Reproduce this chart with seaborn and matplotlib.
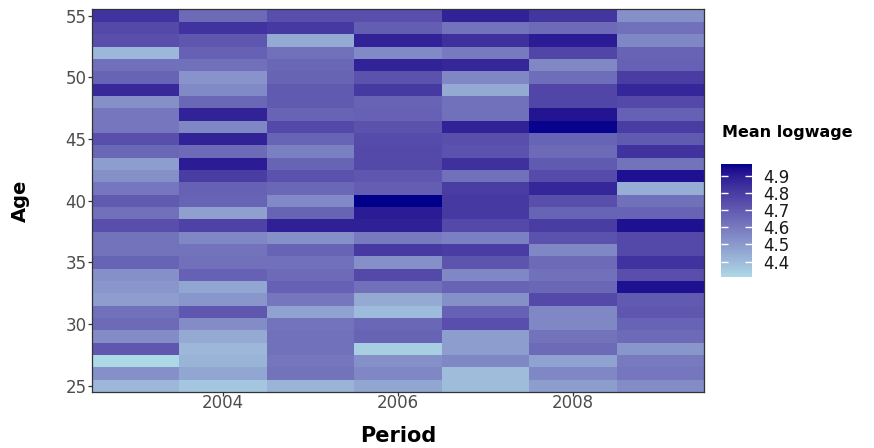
import numpy as np
import pandas as pd
import matplotlib
matplotlib.use("Agg")
import matplotlib.pyplot as plt
from matplotlib.colors import ListedColormap, to_rgb
import seaborn as sns

# Mean log wage by period (columns) and age (rows, 25 -> 55)
ages = list(range(25, 56))
periods = [2003, 2004, 2005, 2006, 2007, 2008, 2009]

wage_2003 = [4.41, 4.53, 4.31, 4.71, 4.54, 4.65, 4.63, 4.49, 4.51, 4.53, 4.67, 4.62, 4.62, 4.74, 4.63, 4.70,
             4.61, 4.53, 4.49, 4.66, 4.74, 4.61, 4.61, 4.53, 4.86, 4.67, 4.63, 4.41, 4.74, 4.76, 4.83]
wage_2004 = [4.36, 4.46, 4.42, 4.41, 4.45, 4.54, 4.71, 4.51, 4.46, 4.68, 4.63, 4.62, 4.56, 4.78, 4.48, 4.67,
             4.68, 4.80, 4.90, 4.65, 4.88, 4.56, 4.88, 4.66, 4.55, 4.52, 4.63, 4.68, 4.71, 4.83, 4.65]
wage_2005 = [4.42, 4.62, 4.61, 4.63, 4.63, 4.62, 4.47, 4.61, 4.68, 4.65, 4.63, 4.67, 4.53, 4.89, 4.67, 4.55,
             4.66, 4.73, 4.67, 4.58, 4.67, 4.76, 4.67, 4.70, 4.70, 4.67, 4.66, 4.63, 4.45, 4.81, 4.74]
wage_2006 = [4.46, 4.56, 4.53, 4.34, 4.67, 4.66, 4.40, 4.45, 4.63, 4.76, 4.53, 4.81, 4.60, 4.89, 4.90, 4.97,
             4.69, 4.71, 4.76, 4.76, 4.75, 4.73, 4.68, 4.67, 4.81, 4.73, 4.88, 4.55, 4.88, 4.69, 4.74]
wage_2007 = [4.39, 4.39, 4.56, 4.49, 4.49, 4.74, 4.68, 4.53, 4.67, 4.56, 4.72, 4.80, 4.58, 4.76, 4.81, 4.81,
             4.80, 4.63, 4.84, 4.73, 4.74, 4.88, 4.63, 4.63, 4.45, 4.56, 4.87, 4.60, 4.84, 4.62, 4.88]
wage_2008 = [4.49, 4.56, 4.47, 4.65, 4.62, 4.56, 4.56, 4.76, 4.66, 4.63, 4.65, 4.56, 4.73, 4.80, 4.67, 4.74,
             4.87, 4.75, 4.70, 4.65, 4.67, 4.96, 4.92, 4.77, 4.77, 4.64, 4.56, 4.77, 4.90, 4.65, 4.82]
wage_2009 = [4.54, 4.61, 4.60, 4.51, 4.65, 4.67, 4.71, 4.70, 4.93, 4.74, 4.83, 4.76, 4.76, 4.93, 4.67, 4.63,
             4.44, 4.93, 4.62, 4.83, 4.70, 4.80, 4.68, 4.76, 4.87, 4.80, 4.68, 4.67, 4.56, 4.63, 4.53]

x_tick_years = [2004, 2006, 2008]
y_tick_ages = [25, 30, 35, 40, 45, 50, 55]
legend_ticks = [4.4, 4.5, 4.6, 4.7, 4.8, 4.9]

df = pd.DataFrame({
    2003: wage_2003, 2004: wage_2004, 2005: wage_2005, 2006: wage_2006,
    2007: wage_2007, 2008: wage_2008, 2009: wage_2009,
}, index=ages)
df = df[periods].sort_index(ascending=False)


# Lab-space gradient from lightblue to darkblue
def _srgb_to_lab(rgb):
    c = np.asarray(rgb, dtype=float)
    lin = np.where(c <= 0.04045, c / 12.92, ((c + 0.055) / 1.055) ** 2.4)
    m = np.array([[0.4124564, 0.3575761, 0.1804375],
                  [0.2126729, 0.7151522, 0.0721750],
                  [0.0193339, 0.1191920, 0.9503041]])
    xyz = m @ lin
    white = np.array([0.95047, 1.0, 1.08883])
    t = xyz / white
    f = np.where(t > (6 / 29) ** 3, np.cbrt(t), t / (3 * (6 / 29) ** 2) + 4 / 29)
    return np.array([116 * f[1] - 16, 500 * (f[0] - f[1]), 200 * (f[1] - f[2])])


def _lab_to_srgb(lab):
    L, a, b = lab
    fy = (L + 16) / 116
    fx = fy + a / 500
    fz = fy - b / 200
    f = np.array([fx, fy, fz])
    t = np.where(f > 6 / 29, f ** 3, 3 * (6 / 29) ** 2 * (f - 4 / 29))
    xyz = t * np.array([0.95047, 1.0, 1.08883])
    minv = np.array([[3.2404542, -1.5371385, -0.4985314],
                     [-0.9692660, 1.8760108, 0.0415560],
                     [0.0556434, -0.2040259, 1.0572252]])
    lin = np.clip(minv @ xyz, 0, 1)
    c = np.where(lin <= 0.0031308, 12.92 * lin, 1.055 * lin ** (1 / 2.4) - 0.055)
    return np.clip(c, 0, 1)


lab_lo = _srgb_to_lab(to_rgb("#ADD8E6"))
lab_hi = _srgb_to_lab(to_rgb("#00008B"))
ramp = [_lab_to_srgb(lab_lo + (lab_hi - lab_lo) * s) for s in np.linspace(0, 1, 256)]
cmap = ListedColormap(ramp)

sns.set_style("white")
plt.rcParams["font.family"] = ["DejaVu Sans"]

W, H = 874, 448
fig = plt.figure(figsize=(W / 100, H / 100), dpi=100)
ax = fig.add_axes([92 / W, 1 - 392 / H, (704 - 92) / W, (392 - 9.5) / H])
cax = fig.add_axes([721 / W, 1 - 277 / H, (752 - 721) / W, (277 - 164) / H])

sns.heatmap(df, cmap=cmap, ax=ax, cbar_ax=cax, linewidths=0,
            vmin=df.values.min(), vmax=df.values.max(),
            xticklabels=False, yticklabels=False)

# axis ticks at the positions of the labelled years / ages
xpos = [periods.index(y) + 0.5 for y in x_tick_years]
ages_desc = list(df.index)
ypos = [ages_desc.index(a) + 0.5 for a in y_tick_ages]
ax.set_xticks(xpos)
ax.set_xticklabels([str(y) for y in x_tick_years], rotation=0)
ax.set_yticks(ypos)
ax.set_yticklabels([str(a) for a in y_tick_ages], rotation=0)
ax.tick_params(axis="both", which="both", length=3, width=0.9, color="#333333",
               labelcolor="#4d4d4d", labelsize=12, bottom=True, left=True)
ax.tick_params(axis="x", pad=-1.5)
ax.tick_params(axis="y", pad=1)

for s in ax.spines.values():
    s.set_visible(True)
    s.set_color("#333333")
    s.set_linewidth(0.9)

ax.set_xlabel("Period", fontsize=15, fontweight="bold", va="center", color="black")
ax.xaxis.set_label_coords(0.5, (392 - 436) / (392 - 9.5))
ax.set_ylabel("Age", fontsize=14, fontweight="bold", va="center", color="black")
ax.yaxis.set_label_coords((20 - 92) / (704 - 92), 0.5)

# colorbar styling
cb = ax.collections[0].colorbar
cb.set_ticks(legend_ticks)
cb.set_ticklabels([f"{t:.1f}" for t in legend_ticks])
cb.outline.set_visible(False)
cax.set_axisbelow(False)
cax.tick_params(axis="y", direction="in", length=5, width=1, color="white",
                left=True, right=True, labelleft=False, labelright=True,
                labelsize=12, labelcolor="#1a1a1a", pad=8)
fig.text(722 / W, 1 - 133 / H, "Mean logwage", fontsize=11.5, fontweight="bold",
         ha="left", va="center", color="black")

fig.savefig("out.png", dpi=100)
